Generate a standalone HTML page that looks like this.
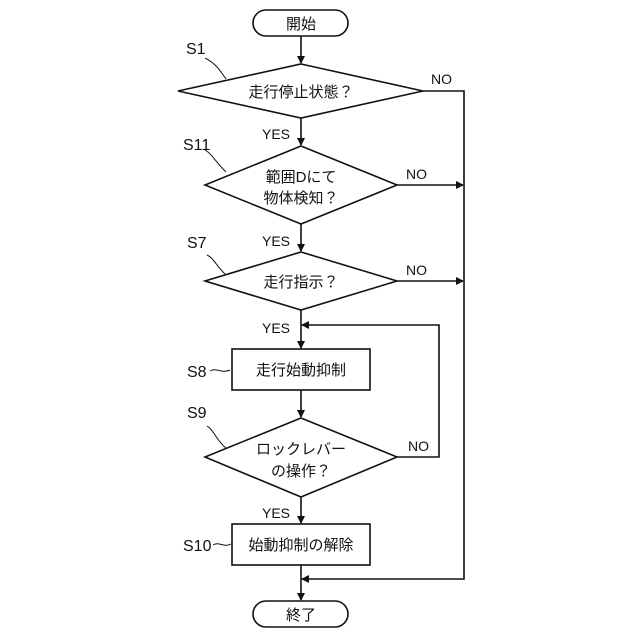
<!DOCTYPE html>
<html><head><meta charset="utf-8"><style>body{margin:0;background:#fff}svg{display:block}text{font-family:"Liberation Sans","Noto Sans CJK JP",sans-serif;fill:#111}</style></head><body>
<svg width="640" height="640" viewBox="0 0 640 640" xmlns="http://www.w3.org/2000/svg">
<defs><marker id="a" markerWidth="8" markerHeight="8" refX="7" refY="4" orient="auto" markerUnits="userSpaceOnUse"><path d="M0,0 L8,4 L0,8z" fill="#111"/></marker></defs>
<g stroke="#111" stroke-width="1.6" fill="none">
<rect x="253" y="10" width="95" height="26" rx="13" fill="#fff"/>
<rect x="253" y="601" width="95" height="26" rx="13" fill="#fff"/>
<polygon points="301,64 423,91 301,118 178,91"/>
<polygon points="301,146 397,185 301,224 205,185"/>
<polygon points="301,252 397,281 301,310 205,281"/>
<rect x="232" y="349" width="138" height="41"/>
<polygon points="301,418 397,457 301,497 205,457"/>
<rect x="232" y="524" width="138" height="41"/>
<line x1="301" y1="36" x2="301" y2="63" marker-end="url(#a)"/>
<line x1="301" y1="118" x2="301" y2="145" marker-end="url(#a)"/>
<line x1="301" y1="224" x2="301" y2="251" marker-end="url(#a)"/>
<line x1="301" y1="310" x2="301" y2="348" marker-end="url(#a)"/>
<line x1="301" y1="390" x2="301" y2="417" marker-end="url(#a)"/>
<line x1="301" y1="497" x2="301" y2="523" marker-end="url(#a)"/>
<line x1="301" y1="565" x2="301" y2="600" marker-end="url(#a)"/>
<polyline points="423,91 464,91 464,579 302,579" marker-end="url(#a)"/>
<line x1="397" y1="185" x2="463" y2="185" marker-end="url(#a)"/>
<line x1="397" y1="281" x2="463" y2="281" marker-end="url(#a)"/>
<polyline points="397,457 439,457 439,325 302,325" marker-end="url(#a)"/>
<path d="M205,58 C212,62 216,64 226,79" stroke-width="1"/>
<path d="M205,150 C212,154 214,160 226,172" stroke-width="1"/>
<path d="M207,255 C214,258 216,266 226,275" stroke-width="1"/>
<path d="M207,426 C214,430 216,440 226,448" stroke-width="1"/>
<path d="M210,371 C216,367 222,374 230,370" stroke-width="1"/>
<path d="M213,545 C219,541 224,548 231,544" stroke-width="1"/>
</g>
<g font-size="15" text-anchor="middle">
<text x="301" y="29">開始</text>
<text x="301" y="620">終了</text>
<text x="301" y="97">走行停止状態？</text>
<text x="301" y="182">範囲Dにて</text>
<text x="301" y="203">物体検知？</text>
<text x="301" y="287">走行指示？</text>
<text x="301" y="375">走行始動抑制</text>
<text x="301" y="454">ロックレバー</text>
<text x="301" y="476">の操作？</text>
<text x="301" y="550">始動抑制の解除</text>
</g>
<g font-size="14">
<text x="262" y="139">YES</text><text x="262" y="246">YES</text><text x="262" y="333">YES</text><text x="262" y="518">YES</text>
<text x="431" y="84">NO</text><text x="406" y="179">NO</text><text x="406" y="275">NO</text><text x="408" y="451">NO</text>
</g>
<g font-size="16">
<text x="186" y="54">S1</text><text x="183" y="150">S11</text><text x="187" y="248">S7</text>
<text x="187" y="377">S8</text><text x="187" y="418">S9</text><text x="183" y="551">S10</text>
</g>
</svg>
</body></html>
